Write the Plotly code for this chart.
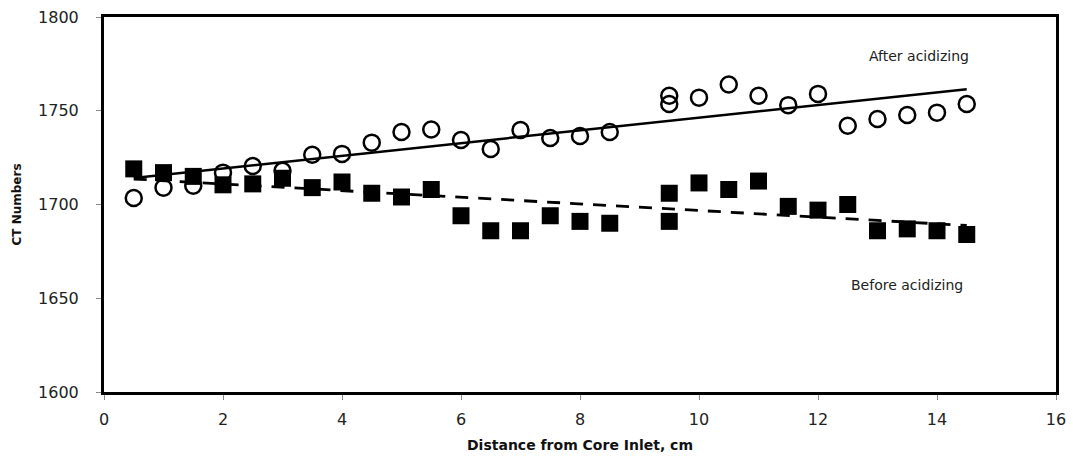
import numpy as np
import plotly.graph_objects as go

x_before = [0.5, 1, 1.5, 2, 2.5, 3, 3.5, 4, 4.5, 5, 5.5, 6, 6.5, 7, 7.5, 8, 8.5,
            9.5, 9.5, 10, 10.5, 11, 11.5, 12, 12.5, 13, 13.5, 14, 14.5]
y_before = [1719, 1717, 1715, 1710.5, 1711, 1714, 1709, 1712, 1706, 1704, 1708, 1694, 1686, 1686,
            1694, 1691, 1690, 1706, 1691, 1711.5, 1708, 1712.5, 1699, 1697, 1700, 1686, 1687, 1686, 1684]

x_after = [0.5, 1, 1.5, 2, 2.5, 3, 3.5, 4, 4.5, 5, 5.5, 6, 6.5, 7, 7.5, 8, 8.5,
           9.5, 9.5, 10, 10.5, 11, 11.5, 12, 12.5, 13, 13.5, 14, 14.5]
y_after = [1703.5, 1709, 1710, 1717, 1720.5, 1718, 1726.5, 1727, 1733, 1738.7, 1740, 1734.4, 1729.6,
           1739.7, 1735.5, 1736.5, 1738.7, 1753.6, 1758, 1757, 1764, 1758, 1753, 1759, 1742,
           1745.6, 1747.7, 1749, 1753.6]

x_ticks = [0, 2, 4, 6, 8, 10, 12, 14, 16]
y_ticks = [1600, 1650, 1700, 1750, 1800]

# Linear trendlines fitted from the data
xb = np.array(x_before); yb = np.array(y_before)
xa = np.array(x_after); ya = np.array(y_after)
pb = np.polyfit(xb, yb, 1)
pa = np.polyfit(xa, ya, 1)
xt = np.array([min(x_before), max(x_before)])

fig = go.Figure()
fig.add_trace(go.Scatter(x=xt, y=np.polyval(pb, xt), mode="lines",
                         line=dict(color="black", width=2.8, dash="13px,10px"), showlegend=False))
fig.add_trace(go.Scatter(x=xt, y=np.polyval(pa, xt), mode="lines",
                         line=dict(color="black", width=2.5), showlegend=False))
fig.add_trace(go.Scatter(x=x_before, y=y_before, mode="markers",
                         marker=dict(symbol="square", size=17, color="black"), showlegend=False))
fig.add_trace(go.Scatter(x=x_after, y=y_after, mode="markers",
                         marker=dict(symbol="circle-open", size=16, color="black",
                                     line=dict(width=2.5, color="black")), showlegend=False))

fig.add_annotation(x=13.7, y=1779, text="After acidizing", showarrow=False,
                   font=dict(family="DejaVu Sans", size=14, color="#222"))
fig.add_annotation(x=13.5, y=1657, text="Before acidizing", showarrow=False,
                   font=dict(family="DejaVu Sans", size=14, color="#222"))

fig.update_layout(
    width=1073, height=458,
    margin=dict(l=104, r=17, t=17, b=66),
    paper_bgcolor="white", plot_bgcolor="white",
    font=dict(family="DejaVu Sans", size=16, color="#222"),
)
fig.update_xaxes(range=[0, 16], tickvals=x_ticks, showgrid=False, zeroline=False,
                 showline=True, linecolor="black", linewidth=3, mirror=True,
                 ticks="outside", ticklen=5, tickcolor="#888", ticklabelstandoff=6,
                 automargin=False,
                 title=dict(text="<b>Distance from Core Inlet, cm</b>", standoff=12,
                            font=dict(family="DejaVu Sans", size=14, color="#111")))
fig.update_yaxes(range=[1600, 1800], tickvals=y_ticks, showgrid=False, zeroline=False,
                 showline=True, linecolor="black", linewidth=3, mirror=True,
                 ticks="outside", ticklen=5, tickcolor="#888", ticklabelstandoff=14,
                 automargin=False,
                 title=dict(text="<b>CT Numbers</b>", standoff=14,
                            font=dict(family="DejaVu Sans", size=12, color="#111")))

fig.write_html("out.html")
